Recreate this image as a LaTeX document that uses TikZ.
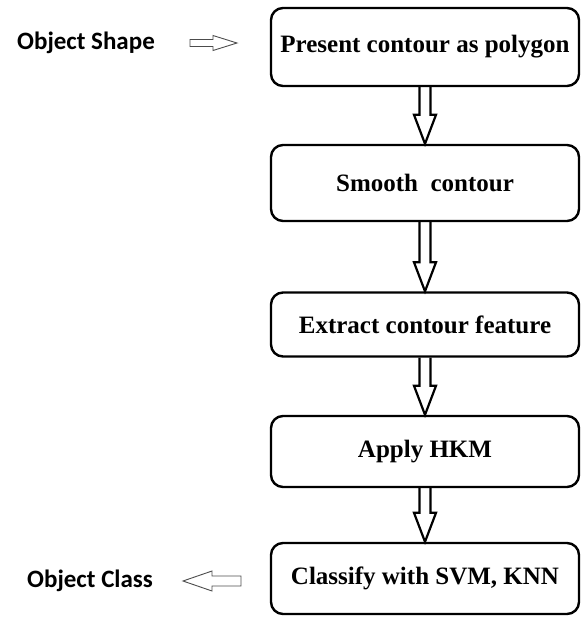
\documentclass[tikz,border=0pt]{standalone}
\usepackage{fontspec}
\setmainfont{Liberation Serif}
\newfontfamily\labfont{Carlito}
\begin{document}
\begin{tikzpicture}[x=1pt,y=-1pt,
  stepbox/.style={draw, line width=2.4pt, rounded corners=12pt, minimum width=308pt,
    inner sep=0pt, font=\fontsize{25}{29}\selectfont\bfseries},
  fatarrow/.style={draw, line width=2.2pt, line join=miter},
  thinarrow/.style={draw=black!70, line width=0.9pt, line join=miter},
  sidelabel/.style={anchor=west, inner sep=0pt, font=\labfont\fontsize{25}{30}\selectfont\bfseries}]
\useasboundingbox (0,0) rectangle (582,619);

\node[stepbox, minimum height=78pt] (b1) at (425,47) {Present contour as polygon};
\node[stepbox, minimum height=76pt] (b2) at (425,183) {Smooth\ \ contour};
\node[stepbox, minimum height=64pt] (b3) at (425,324.5) {Extract contour feature};
\node[stepbox, minimum height=71pt] (b4) at (425,451.5) {Apply HKM};
\node[stepbox, minimum height=71pt] (b5) at (425,578.5) {Classify with SVM, KNN};

\foreach \a/\b in {b1/b2, b2/b3, b3/b4, b4/b5}{
  \draw[fatarrow] ([xshift=-5.5pt]\a.south) -- ([xshift=-5.5pt,yshift=29pt]\b.north)
    -- ([xshift=-11pt,yshift=29pt]\b.north) -- (\b.north)
    -- ([xshift=11pt,yshift=29pt]\b.north) -- ([xshift=5.5pt,yshift=29pt]\b.north)
    -- ([xshift=5.5pt]\a.south);
}

\node[sidelabel] (shape) at (17,43) {Object Shape};
\node[sidelabel] (class) at (27,581) {Object Class};

% input arrow (Object Shape -> first box)
\coordinate (s0) at (190,43);
\coordinate (s1) at (237,43);
\draw[thinarrow] (s0) ++(0,-3.5) -- ++(23,0) -- ++(0,-4) -- (s1) -- ++(-24,7.5)
  -- ++(0,-4) -- ++(-23,0) -- cycle;

% output arrow (last box -> Object Class)
\coordinate (c0) at (241,581);
\coordinate (c1) at (183,581);
\draw[thinarrow] (c0) ++(0,-5) -- ++(-29,0) -- ++(0,-5) -- (c1) -- ++(29,10)
  -- ++(0,-5) -- ++(29,0) -- cycle;
\end{tikzpicture}
\end{document}
